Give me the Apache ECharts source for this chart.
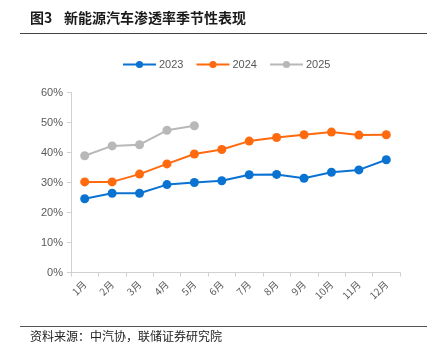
<!DOCTYPE html>
<html><head><meta charset="utf-8">
<script src="https://cdn.jsdelivr.net/npm/echarts@6/dist/echarts.min.js"></script>
<style>html,body{margin:0;padding:0;background:#fff}#c{width:430px;height:357px}</style>
</head><body><div id="c"></div>
<script>
const categories = ['1月','2月','3月','4月','5月','6月','7月','8月','9月','10月','11月','12月'];
const s2023 = [24.6, 26.4, 26.4, 29.3, 30.0, 30.6, 32.6, 32.7, 31.4, 33.4, 34.2, 37.6];
const s2024 = [30.2, 30.2, 32.8, 36.2, 39.5, 41.0, 43.8, 45.0, 45.9, 46.8, 45.8, 45.9];
const s2025 = [38.9, 42.2, 42.6, 47.4, 48.9];
const yTicks = [0, 10, 20, 30, 40, 50, 60];
const names = ['2023', '2024', '2025'];
const colors = ['#0a73d2', '#ff6a0f', '#b8b8b8'];
const font = '"Noto Sans CJK SC", "Liberation Sans", sans-serif';

const chart = echarts.init(document.getElementById('c'));
function mk(i, data) {
  return {
    name: names[i], type: 'line', data: data,
    symbol: 'circle', symbolSize: 9,
    lineStyle: { width: 2, color: colors[i] },
    itemStyle: { color: colors[i] },
    animation: false
  };
}
chart.setOption({
  backgroundColor: '#fff',
  animation: false,
  textStyle: { fontFamily: font },
  graphic: [
    { type: 'text', left: 30, top: 11, style: { text: '图3', font: 'bold 14px ' + font, fill: '#1a1a1a' } },
    { type: 'text', left: 64, top: 11, style: { text: '新能源汽车渗透率季节性表现', font: 'bold 14px ' + font, fill: '#1a1a1a' } },
    { type: 'line', shape: { x1: 20, y1: 33.5, x2: 427, y2: 33.5 }, style: { stroke: '#444', lineWidth: 1 } },
    { type: 'line', shape: { x1: 20, y1: 326.5, x2: 427, y2: 326.5 }, style: { stroke: '#555', lineWidth: 1 } },
    { type: 'text', left: 30, top: 330, style: { text: '资料来源：中汽协，联储证券研究院', font: '12px ' + font, fill: '#222' } }
  ],
  legend: {
    data: names, left: 117, top: 54, itemWidth: 33, itemHeight: 9, itemGap: 12,
    textStyle: { color: '#595959', fontSize: 11, fontFamily: 'Liberation Sans, sans-serif', padding: [0, 0, 0, -2] }
  },
  grid: { left: 71, right: 30, top: 92.5, bottom: 84.5 },
  xAxis: {
    type: 'category', data: categories, boundaryGap: true,
    axisLine: { lineStyle: { color: '#d0d0d0' } },
    axisTick: { show: true, length: 4, lineStyle: { color: '#d0d0d0' } },
    axisLabel: { rotate: 45, color: '#595959', fontSize: 10, margin: 10 }
  },
  yAxis: {
    type: 'value', min: yTicks[0], max: yTicks[yTicks.length - 1], interval: 10,
    axisLine: { show: true, lineStyle: { color: '#d0d0d0' } },
    axisTick: { show: true, length: 4, lineStyle: { color: '#d0d0d0' } },
    splitLine: { show: false },
    axisLabel: { color: '#595959', fontSize: 11, fontFamily: 'Liberation Sans, sans-serif', formatter: v => v + '%', margin: 8 }
  },
  series: [mk(0, s2023), mk(1, s2024), mk(2, s2025)]
});
</script></body></html>
